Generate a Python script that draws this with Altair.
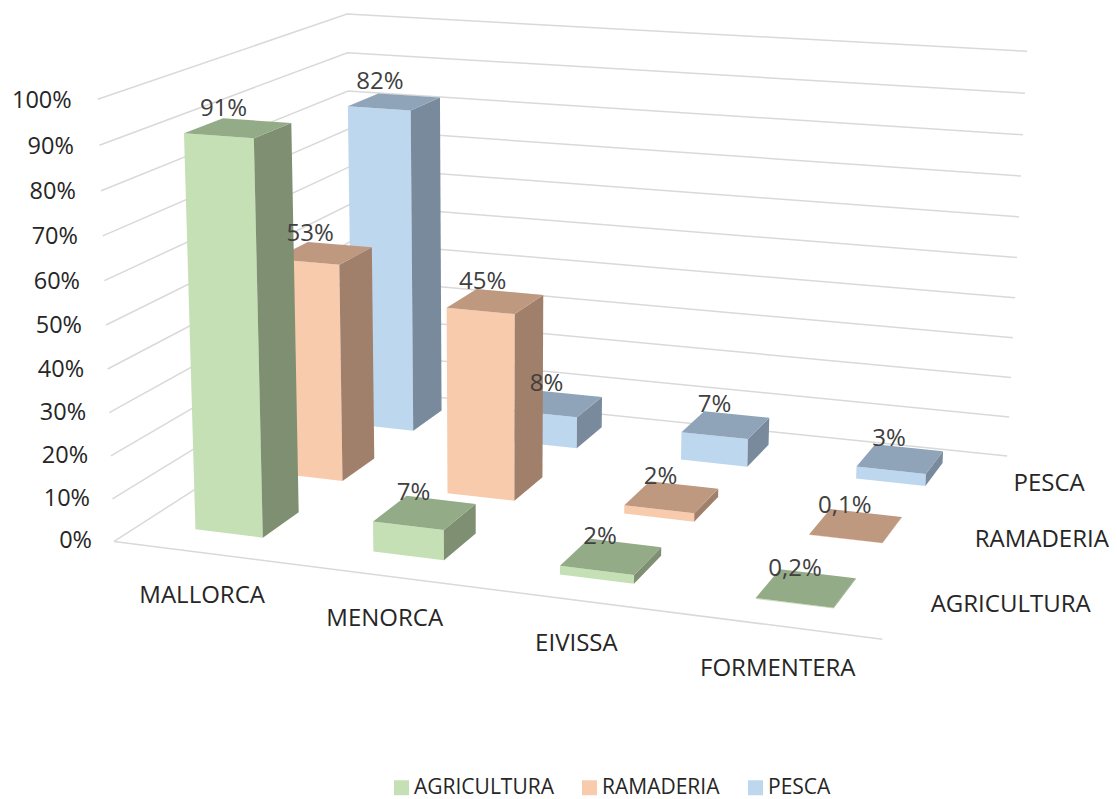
import numpy as np
import pandas as pd
import altair as alt

islands = ["MALLORCA", "MENORCA", "EIVISSA", "FORMENTERA"]
series = ["AGRICULTURA", "RAMADERIA", "PESCA"]
agricultura = [91, 7, 2, 0.2]
ramaderia = [53, 45, 2, 0.1]
pesca = [82, 8, 7, 3]
agri_labels = ["91%", "7%", "2%", "0,2%"]
rama_labels = ["53%", "45%", "2%", "0,1%"]
pesca_labels = ["82%", "8%", "7%", "3%"]
ticks = list(range(0, 101, 10))
front_colors = ["#C5E0B4", "#F8CBAD", "#BDD7EE"]
side_colors = ["#7F8F72", "#A07F6B", "#788A9B"]
top_colors = ["#94AB88", "#BE9980", "#8FA4B8"]

# camera fitted to the 3D box: (category axis, series axis, value axis) -> page pixel
box = [((0, 0, 0), (116, 541)), ((0, 0, 1), (96, 99)), ((0, 1, 0), (350, 389)),
       ((0, 1, 1), (349, 14)), ((1, 1, 0), (1008, 455)), ((1, 1, 1), (1026.5, 51.7)),
       ((1, 0, 0), (882, 640))]
A = []
for (u, v, w), (X, Y) in box:
    A.append([u, v, w, 1, 0, 0, 0, 0, -X * u, -X * v, -X * w, -X])
    A.append([0, 0, 0, 0, u, v, w, 1, -Y * u, -Y * v, -Y * w, -Y])
cam = np.linalg.svd(np.array(A, float))[2][-1].reshape(3, 4)


def proj(u, v, w):
    p = cam @ np.array([u, v, w, 1.0])
    return p[0] / p[2], p[1] / p[2]


# grid lines
grid = []
for t in ticks:
    w = t / 100
    for i, (u, v) in enumerate([(0, 0), (0, 1), (1, 1)]):
        x, y = proj(u, v, w)
        grid.append(dict(x=x, y=y, line=f"g{t}", o=i))
x0, y0 = proj(0, 0, 0)
x1, y1 = proj(1, 0, 0)
grid += [dict(x=x0, y=y0, line="floor", o=0), dict(x=x1, y=y1, line="floor", o=1)]

# bars
BAR_U = 0.096
BAR_V = 0.145
SHIFT_U = -0.001
SHIFT_V = 0.01
n_u, n_v = len(islands), len(series)
values = [agricultura, ramaderia, pesca]
texts = [agri_labels, rama_labels, pesca_labels]
faces, labels = [], []
shade_domain = list(series) + [s + " side" for s in series] + [s + " top" for s in series]
shade_range = front_colors + side_colors + top_colors
for j in reversed(range(n_v)):
    for i in range(n_u):
        uc, vc = (i + 0.5) / n_u + SHIFT_U, (j + 0.5) / n_v + SHIFT_V
        a, b = uc - BAR_U / 2, uc + BAR_U / 2
        c, d = vc - BAR_V / 2, vc + BAR_V / 2
        h = values[j][i] / 100
        polys = [
            (series[j], [(a, c, 0), (b, c, 0), (b, c, h), (a, c, h)]),
            (series[j] + " side", [(b, c, 0), (b, d, 0), (b, d, h), (b, c, h)]),
            (series[j] + " top", [(a, c, h), (b, c, h), (b, d, h), (a, d, h)]),
        ]
        for k, (shade, pts) in enumerate(polys):
            for o, pt in enumerate(pts + pts[:1]):
                x, y = proj(*pt)
                faces.append(dict(x=x, y=y, shade=shade, face=f"{j:02d}{i:02d}{k}", o=o))
        x, y = proj(uc, vc, h)
        labels.append(dict(x=x - 11 - 4 * h, y=y - 19.5, text=texts[j][i]))

tick_labels = []
for t in ticks:
    w = t / 100
    x, y = proj(0, 0, w)
    tick_labels.append(dict(x=x - 22 - 4 * w, y=y + 1.5 * w, text=f"{t}%"))
cat_labels = []
for i, name in enumerate(islands):
    x, y = proj((i + 0.5) / n_u, 0, 0)
    cat_labels.append(dict(x=x, y=y + 43.5, text=name))
ser_labels = []
for j, name in enumerate(series):
    x, y = proj(1, (j + 0.5) / n_v, 0)
    ser_labels.append(dict(x=x + 24, y=y + 1.5, text=name))

W, H = 1100, 780
X = alt.X("x:Q", scale=alt.Scale(domain=[8, 8 + W], nice=False, zero=False), axis=None)
Y = alt.Y("y:Q", scale=alt.Scale(domain=[8 + H, 8], nice=False, zero=False), axis=None)
FONT = "Open Sans"

grid_layer = alt.Chart(pd.DataFrame(grid)).mark_line(color="#D9D9D9", strokeWidth=1.5).encode(
    x=X, y=Y, detail="line:N", order="o:Q")

face_layer = alt.Chart(pd.DataFrame(faces)).mark_line(strokeWidth=0).encode(
    x=X, y=Y, detail="face:N", order="o:Q",
    fill=alt.Fill("shade:N", scale=alt.Scale(domain=shade_domain, range=shade_range),
                  legend=alt.Legend(values=series, title=None, orient="none", legendX=383, legendY=769,
                                    direction="horizontal", symbolType="square", symbolSize=225,
                                    symbolStrokeWidth=0, labelFont=FONT, labelFontSize=21,
                                    labelColor="#262626", columnPadding=25, labelOffset=2, columns=3,
                                    labelLimit=300)))


def text_layer(rows, color, size, align="center"):
    return alt.Chart(pd.DataFrame(rows)).mark_text(
        font=FONT, fontSize=size, color=color, align=align, baseline="middle").encode(x=X, y=Y, text="text:N")


chart = alt.layer(
    grid_layer, face_layer,
    text_layer(labels, "#404040", 24),
    text_layer(tick_labels, "#262626", 23.5, "right"),
    text_layer(cat_labels, "#262626", 24),
    text_layer(ser_labels, "#262626", 24, "left"),
).properties(width=W, height=H, padding=alt.Padding(left=0, top=0, right=0, bottom=10),
             background="white").configure_view(stroke=None)

chart.save("out.html", embed_options={"renderer": "svg", "actions": False})
